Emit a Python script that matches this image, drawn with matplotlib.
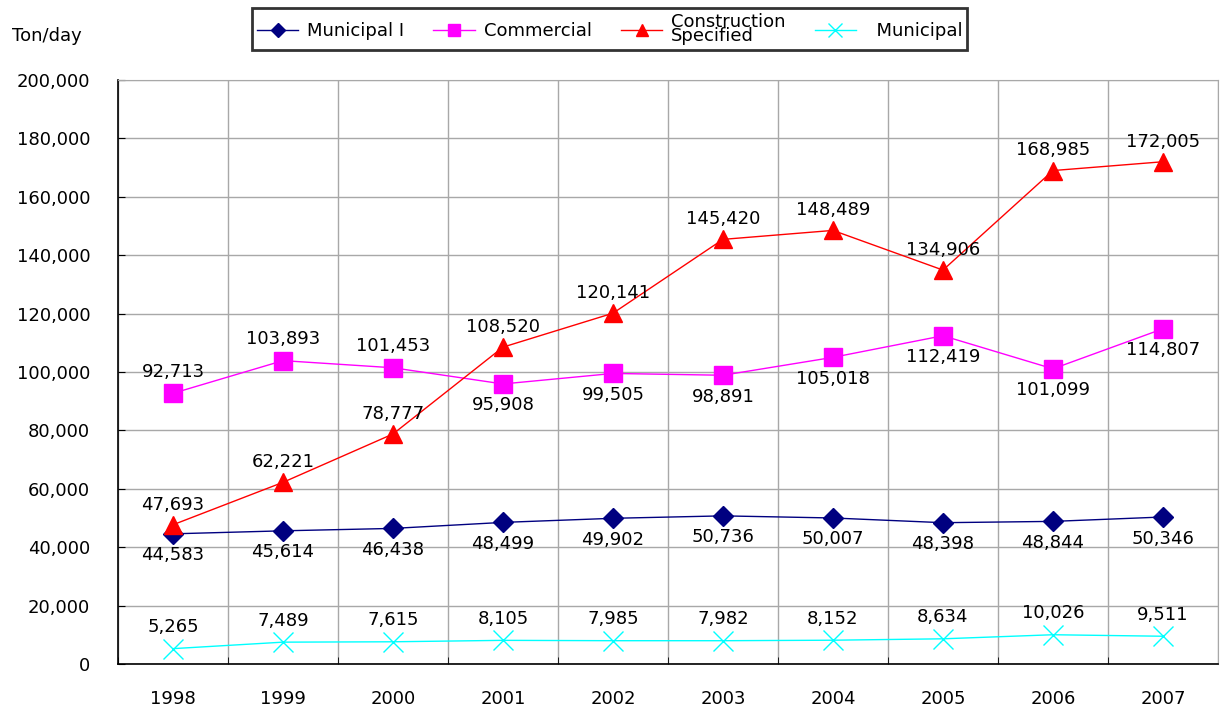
import numpy as np
import matplotlib.pyplot as plt
from matplotlib.ticker import FuncFormatter, FixedLocator

years = ['1998', '1999', '2000', '2001', '2002', '2003', '2004', '2005', '2006', '2007']
municipal_i = [44583, 45614, 46438, 48499, 49902, 50736, 50007, 48398, 48844, 50346]
commercial = [92713, 103893, 101453, 95908, 99505, 98891, 105018, 112419, 101099, 114807]
construction = [47693, 62221, 78777, 108520, 120141, 145420, 148489, 134906, 168985, 172005]
municipal = [5265, 7489, 7615, 8105, 7985, 7982, 8152, 8634, 10026, 9511]

# label placement: +1 above point, -1 below
commercial_side = [1, 1, 1, -1, -1, -1, -1, -1, -1, -1]

plt.rcParams['font.family'] = ['DejaVu Sans']
fig = plt.figure(figsize=(12.32, 7.13), dpi=100)
ax = fig.add_axes([0.0958, 0.0687, 0.8928, 0.8191])

x = np.arange(len(years))
ax.plot(x, municipal_i, color='#000080', lw=1, marker='D', ms=10,
        label='Municipal I')
ax.plot(x, commercial, color='#ff00ff', lw=1, marker='s', ms=13,
        label='Commercial')
ax.plot(x, construction, color='#ff0000', lw=1, marker='^', ms=13,
        label='Construction\nSpecified')
ax.plot(x, municipal, color='#00ffff', lw=1, marker='x', ms=14, mew=1,
        label='  Municipal')

fs = 13
for i in range(len(years)):
    ax.annotate(f'{municipal_i[i]:,}', (x[i], municipal_i[i]), xytext=(0, -9),
                textcoords='offset points', ha='center', va='top', fontsize=fs)
    s = commercial_side[i]
    ax.annotate(f'{commercial[i]:,}', (x[i], commercial[i]), xytext=(0, 9 * s),
                textcoords='offset points', ha='center',
                va='bottom' if s > 0 else 'top', fontsize=fs)
    ax.annotate(f'{construction[i]:,}', (x[i], construction[i]), xytext=(0, 8),
                textcoords='offset points', ha='center', va='bottom', fontsize=fs)
    ax.annotate(f'{municipal[i]:,}', (x[i], municipal[i]), xytext=(0, 9),
                textcoords='offset points', ha='center', va='bottom', fontsize=fs)

ax.set_xlim(-0.5, len(years) - 0.5)
ax.set_ylim(0, 200000)
ax.yaxis.set_major_locator(FixedLocator(np.arange(0, 200001, 20000)))
ax.yaxis.set_major_formatter(FuncFormatter(lambda v, p: f'{int(v):,}'))
ax.set_xticks(x)
ax.set_xticklabels(years)
ax.set_xticks(np.arange(-0.5, len(years)), minor=True)
ax.tick_params(axis='x', which='major', length=0, pad=19, labelsize=fs)
ax.tick_params(axis='x', which='minor', direction='in', length=5, color='black')
ax.tick_params(axis='y', direction='in', length=5, labelsize=fs, pad=20)

ax.grid(True, which='minor', axis='x', color='#a8a8a8', lw=1)
ax.grid(True, which='major', axis='y', color='#a8a8a8', lw=1)
ax.set_axisbelow(True)
for side in ['top', 'right']:
    ax.spines[side].set_color('#a8a8a8')
for side in ['left', 'bottom']:
    ax.spines[side].set_color('black')
    ax.spines[side].set_linewidth(1.2)

fig.text(0.01, 0.95, 'Ton/day', fontsize=fs, ha='left', va='center')

leg = fig.legend(loc='center', bbox_to_anchor=(0.495, 0.959), ncol=4,
                 fontsize=fs, frameon=True, fancybox=False, borderpad=0.25,
                 handlelength=2.3, columnspacing=1.6, handletextpad=0.5,
                 labelspacing=0, markerscale=0.7)
leg.get_frame().set_edgecolor('black')
leg.get_frame().set_linewidth(2)
for t in leg.get_texts():
    t.set_linespacing(0.75)

fig.savefig('out.png', dpi=100)
